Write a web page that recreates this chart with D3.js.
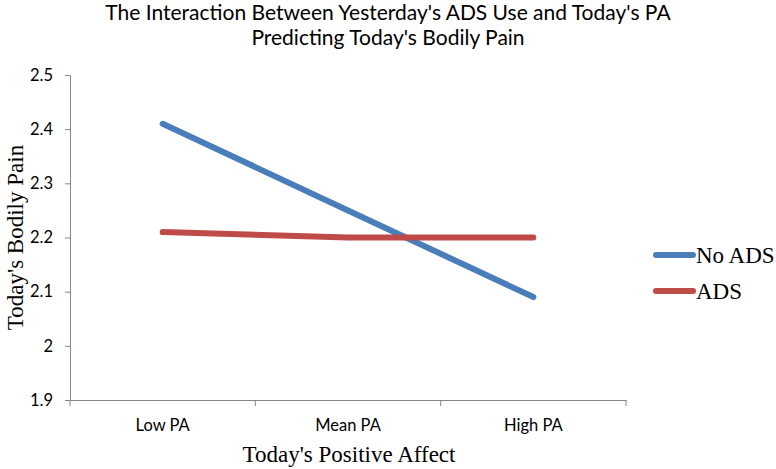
<!DOCTYPE html>
<html><head><meta charset="utf-8">
<script src="https://cdn.jsdelivr.net/npm/d3@7"></script>
<style>body{margin:0;background:#fff}</style>
</head><body><svg id="c" width="776" height="469"></svg>
<script>
const categories = ["Low PA", "Mean PA", "High PA"];
const noADS = [2.41, 2.25, 2.09];
const ads = [2.21, 2.20, 2.20];
const yTicks = [1.9, 2, 2.1, 2.2, 2.3, 2.4, 2.5];
const seriesNames = ["No ADS", "ADS"];
const colors = ["#4A7EBB", "#BE4B48"];

(function(){
const svg = d3.select("#c");
const mLeft = 70, mRight = 626, mTop = 75, mBottom = 400;
const x = d3.scaleBand().domain(categories).range([mLeft, mRight]);
const y = d3.scaleLinear().domain([1.9, 2.5]).range([mBottom, mTop]);
const axisColor = "#868686";
const sans = "Lato, 'Open Sans', sans-serif";
const serif = "'Liberation Serif', 'DejaVu Serif', serif";

// title
svg.append("text").attr("x", 388).attr("y", 20).attr("text-anchor", "middle")
  .attr("font-family", sans).attr("font-size", 21).attr("fill", "#000")
  .text("The Interaction Between Yesterday's ADS Use and Today's PA");
svg.append("text").attr("x", 388).attr("y", 45).attr("text-anchor", "middle")
  .attr("font-family", sans).attr("font-size", 21).attr("fill", "#000")
  .text("Predicting Today's Bodily Pain");

// y axis
const ya = svg.append("g").attr("transform", `translate(${mLeft},0)`)
  .call(d3.axisLeft(y).tickValues(yTicks).tickSize(5).tickSizeOuter(0).tickPadding(12)
    .tickFormat(d => d3.format("")(d)));
ya.select(".domain").attr("stroke", axisColor);
ya.selectAll(".tick line").attr("stroke", axisColor);
ya.selectAll("text").attr("font-family", sans).attr("font-size", 16.5).attr("fill", "#000");

// x axis
const xa = svg.append("g").attr("transform", `translate(0,${mBottom})`)
  .call(d3.axisBottom(x).tickSize(0).tickPadding(19));
xa.select(".domain").attr("stroke", axisColor);
xa.selectAll("text").attr("font-family", sans).attr("font-size", 16.5).attr("fill", "#000");
const bounds = categories.map(c => x(c)).concat([x(categories[categories.length-1]) + x.bandwidth()]);
xa.selectAll(".btick").data(bounds).enter().append("line")
  .attr("x1", d => d).attr("x2", d => d).attr("y1", 0).attr("y2", 6)
  .attr("stroke", axisColor);

// axis titles
svg.append("text").attr("transform", `translate(23,${(mTop+mBottom)/2}) rotate(-90)`)
  .attr("text-anchor", "middle").attr("font-family", serif).attr("font-size", 23)
  .text("Today's Bodily Pain");
svg.append("text").attr("x", 349).attr("y", 462).attr("text-anchor", "middle")
  .attr("font-family", serif).attr("font-size", 23).text("Today's Positive Affect");

// lines
const line = d3.line().x((d, i) => x(categories[i]) + x.bandwidth()/2).y(d => y(d));
[noADS, ads].forEach((s, k) => {
  svg.append("path").datum(s).attr("d", line).attr("fill", "none")
    .attr("stroke", colors[k]).attr("stroke-width", 6)
    .attr("stroke-linecap", "round").attr("stroke-linejoin", "round");
});

// legend
seriesNames.forEach((n, k) => {
  const ly = 255 + k * 36;
  svg.append("line").attr("x1", 656).attr("x2", 693).attr("y1", ly).attr("y2", ly)
    .attr("stroke", colors[k]).attr("stroke-width", 6).attr("stroke-linecap", "round");
  svg.append("text").attr("x", 696).attr("y", ly + 8).attr("font-family", serif)
    .attr("font-size", 23).text(n);
});
})();
</script></body></html>
